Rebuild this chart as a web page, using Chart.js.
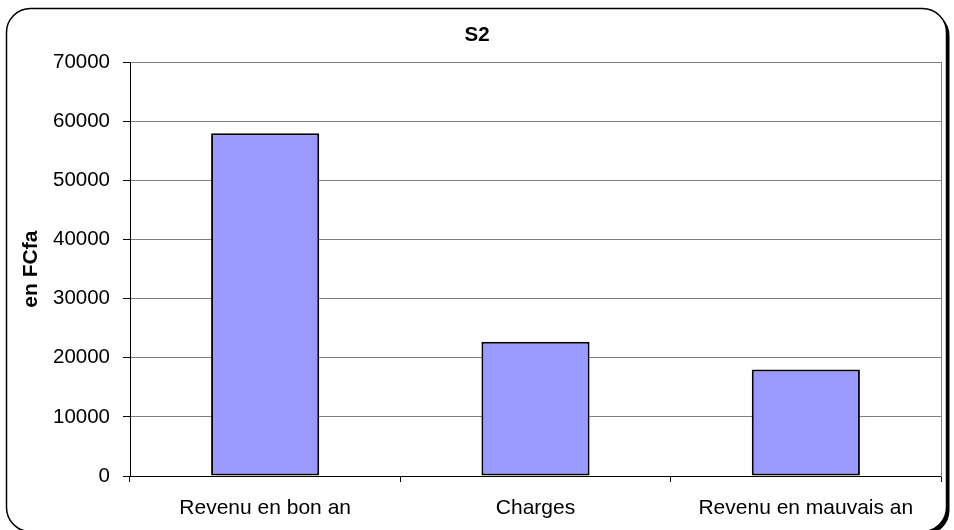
<!DOCTYPE html>
<html>
<head>
<meta charset="utf-8">
<script src="https://cdn.jsdelivr.net/npm/chart.js@4"></script>
<style>
html,body{margin:0;padding:0;background:#fff;}
#wrap{width:954px;height:530px;}
</style>
</head>
<body>
<div id="wrap"><canvas id="c" width="954" height="530"></canvas></div>
<script>
const chartTitle = 'S2';
const yAxisTitle = 'en FCfa';
const categories = ['Revenu en bon an', 'Charges', 'Revenu en mauvais an'];
const values = [58000, 22700, 18000];
const yMin = 0;
const yMax = 70000;
const yStep = 10000;

const FONT = "'Liberation Sans', Arial, sans-serif";

const frame = {
  id: 'frame',
  beforeDraw(chart) {
    const ctx = chart.ctx;
    ctx.save();
    ctx.fillStyle = '#ffffff';
    ctx.fillRect(0, 0, chart.width, chart.height);
    const x = 6.5, y = 8.5, w = 940, h = 523, r = 24;
    ctx.beginPath();
    ctx.roundRect(x, y, w, h, r);
    ctx.shadowColor = 'rgba(0,0,0,1)';
    ctx.shadowOffsetX = 3;
    ctx.shadowOffsetY = 3;
    ctx.shadowBlur = 0;
    ctx.fillStyle = '#ffffff';
    ctx.fill();
    ctx.shadowColor = 'transparent';
    ctx.lineWidth = 1.5;
    ctx.strokeStyle = '#000000';
    ctx.stroke();
    ctx.restore();
  }
};

new Chart(document.getElementById('c'), {
  type: 'bar',
  data: {
    labels: categories,
    datasets: [{
      data: values,
      backgroundColor: '#9999FF',
      borderColor: '#000000',
      borderWidth: 2,
      borderSkipped: false,
      barPercentage: 0.4,
      categoryPercentage: 1.0
    }]
  },
  options: {
    responsive: false,
    animation: false,
    devicePixelRatio: 1,
    layout: { padding: { left: 0, right: 0, top: 0, bottom: 0 } },
    plugins: {
      legend: { display: false },
      tooltip: { enabled: false },
      title: {
        display: true,
        text: chartTitle,
        color: '#000',
        font: { family: FONT, size: 20.5, weight: 'bold', lineHeight: 1.2 },
        padding: { top: 23, bottom: 14.7 }
      }
    },
    scales: {
      x: {
        grid: { display: true, drawOnChartArea: false, drawTicks: true, tickLength: 6, tickColor: '#000', offset: true },
        border: { display: true, color: '#000', width: 1 },
        ticks: { color: '#000', font: { family: FONT, size: 21 }, padding: 14, maxRotation: 0, autoSkip: false },
        afterFit(scale) { scale.height = 54; }
      },
      y: {
        min: yMin,
        max: yMax,
        grid: { color: '#808080', lineWidth: 1, drawTicks: true, tickLength: 7, tickColor: '#000' },
        border: { display: true, color: '#000', width: 1 },
        ticks: {
          stepSize: yStep, color: '#000', font: { family: FONT, size: 20.5 }, padding: 13,
          callback: (v) => String(v)
        },
        title: {
          display: true,
          text: yAxisTitle,
          color: '#000',
          font: { family: FONT, size: 21, weight: 'bold', lineHeight: 1.2 },
          padding: { top: 19, bottom: 0 }
        },
        afterFit(scale) { scale.width = 130; }
      },
      y2: {
        position: 'right',
        min: yMin,
        max: yMax,
        grid: { drawOnChartArea: false, drawTicks: false },
        border: { display: true, color: '#808080', width: 1 },
        ticks: { display: false },
        afterFit(scale) { scale.width = 13; }
      }
    }
  },
  plugins: [frame]
});
</script>
</body>
</html>
